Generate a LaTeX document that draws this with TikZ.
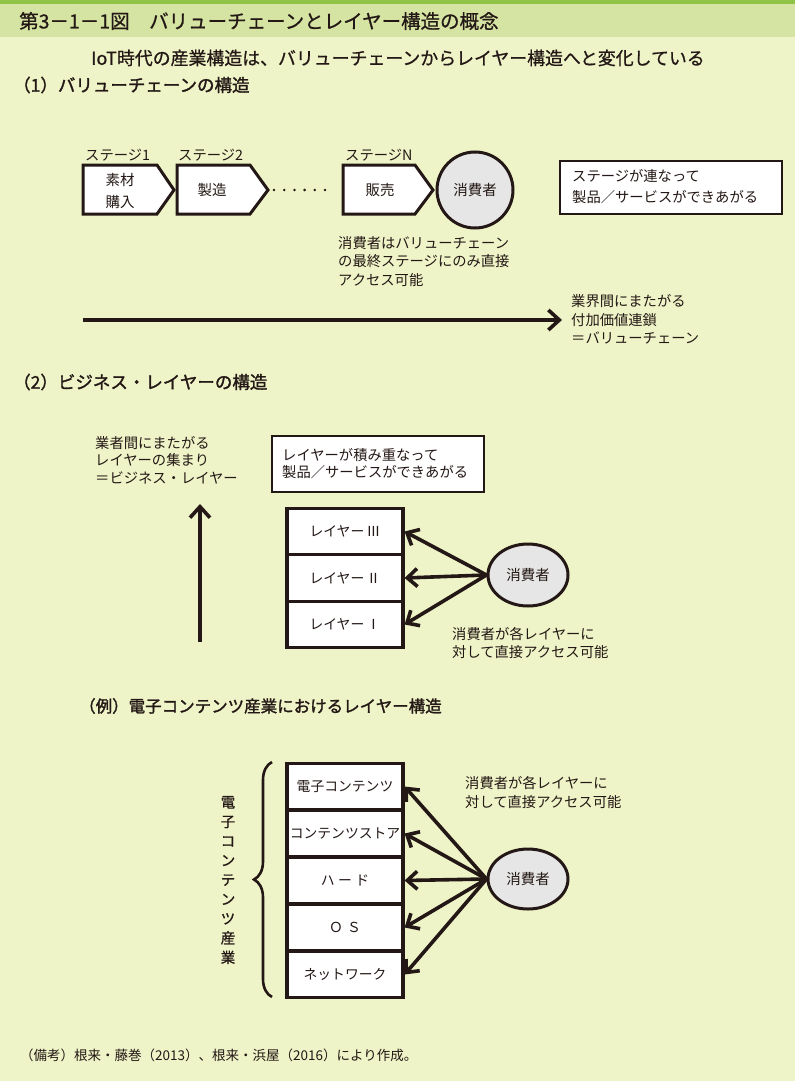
\documentclass[tikz,border=0pt]{standalone}
\usepackage{fontspec}
\setmainfont{Noto Sans CJK JP}[AutoFakeBold=1.6]
\newfontfamily\medfont{Noto Sans CJK JP}[FakeBold=0.8]
\usetikzlibrary{arrows.meta,shapes.geometric,decorations.pathreplacing}
\definecolor{bgc}{HTML}{EFF4C8}
\definecolor{bandc}{HTML}{D5E4A2}
\definecolor{topc}{HTML}{8FC447}
\definecolor{consc}{HTML}{E6E6E6}
\definecolor{inkc}{HTML}{231815}
\begin{document}
\begin{tikzpicture}[x=1pt,y=-1pt,
  txt/.style={inner sep=0pt, text=inkc, font=\fontsize{14.3}{18.5}\selectfont, align=left},
  head/.style={inner sep=0pt, text=inkc, font=\fontsize{17.5}{20}\selectfont\bfseries},
  stagebox/.style={draw=inkc, fill=white, line width=3pt, line join=miter},
  cons/.style={draw=inkc, fill=consc, line width=3pt, inner sep=0pt, text=inkc, font=\fontsize{14.5}{16}\selectfont},
  layerbox/.style={draw=inkc, fill=white, line width=3.2pt, minimum width=116pt, minimum height=46.5pt, inner sep=0pt, text=inkc, font=\fontsize{13.8}{16}\selectfont},
  notebox/.style={draw=inkc, fill=white, line width=1.4pt, inner sep=0pt},
  acc/.style={draw=inkc, line width=3.6pt, -{Straight Barb[length=10pt,width=18pt]}},
  bigarrow/.style={draw=inkc, line width=3.6pt, -{Straight Barb[length=11pt,width=20pt]}}
]
\useasboundingbox (0,0) rectangle (795,1081);
\fill[bgc] (0,0) rectangle (795,1081);
\fill[bandc] (0,0) rectangle (795,37);
\fill[topc] (0,0) rectangle (795,4);

% titles
\node[inner sep=0pt, anchor=west, text=inkc, font=\fontsize{19.5}{22}\medfont] (title) at (19,21) {第3－1－1図　バリューチェーンとレイヤー構造の概念};
\node[inner sep=0pt, anchor=center, text=inkc, font=\fontsize{17.9}{20}\medfont] (sub) at (398,58) {IoT時代の産業構造は、バリューチェーンからレイヤー構造へと変化している};
\node[head, anchor=west] (sec1) at (13,85) {（1）バリューチェーンの構造};

% stages
\node[txt, anchor=west] (lab1) at (85,155) {ステージ1};
\node[txt, anchor=west] (lab2) at (178,155) {ステージ2};
\node[txt, anchor=west] (lab3) at (345,155) {ステージN};
\draw[stagebox] (83,165) -- (157,165) -- (174,190) -- (157,214) -- (83,214) -- cycle;
\draw[stagebox] (177,165) -- (250,165) -- (268,190) -- (250,214) -- (177,214) -- cycle;
\draw[stagebox] (343,165) -- (415,165) -- (433,190) -- (415,214) -- (343,214) -- cycle;
\node[txt, align=center, font=\fontsize{14.5}{22}\selectfont] (s1) at (120,191) {素材\\購入};
\node[txt, font=\fontsize{14.5}{16}\selectfont] (s2) at (212,190) {製造};
\node[txt, font=\fontsize{14.5}{16}\selectfont] (s3) at (380,190) {販売};
\foreach \i in {0,...,5} \fill[inkc] (274+10.2*\i,190) circle (1.4pt);
\node[cons, circle, minimum size=76pt] (c1) at (475,190) {消費者};
\node[txt, anchor=west] (n1) at (338,261.5) {消費者はバリューチェーン\\の最終ステージにのみ直接\\アクセス可能};

\node[notebox, minimum width=222pt, minimum height=53pt] (rb) at (671,187.5) {};
\node[txt, anchor=west, font=\fontsize{14.3}{21}\selectfont] (rbt) at (572,186.5) {ステージが連なって\\製品／サービスができあがる};

\coordinate (a1s) at (83,320);
\coordinate (a1e) at (562,320);
\draw[bigarrow] (a1s) -- (a1e);
\node[txt, anchor=west] (vc) at (571,319.5) {業界間にまたがる\\付加価値連鎖\\＝バリューチェーン};

% section 2
\node[head, anchor=west] (sec2) at (13,382) {（2）ビジネス・レイヤーの構造};
\node[txt, anchor=west, font=\fontsize{14.3}{17.5}\selectfont] (bl) at (95,460) {業者間にまたがる\\レイヤーの集まり\\＝ビジネス・レイヤー};
\node[notebox, minimum width=212pt, minimum height=56pt] (lb) at (378,464) {};
\node[txt, anchor=west, font=\fontsize{14.3}{17.5}\selectfont] (lbt) at (282,463.5) {レイヤーが積み重なって\\製品／サービスができあがる};
\coordinate (v1s) at (200,642);
\coordinate (v1e) at (200,504);
\draw[bigarrow] (v1s) -- (v1e);

\node[layerbox] (L3) at (345,531.5) {レイヤー\,Ⅲ};
\node[layerbox] (L2) at (345,578) {レイヤー\,Ⅱ};
\node[layerbox] (L1) at (345,624.5) {レイヤー\,Ⅰ};
\node[cons, ellipse, minimum width=80pt, minimum height=62pt] (c2) at (528,575) {消費者};
\draw[acc] (c2.west) -- (L3.east);
\draw[acc] (c2.west) -- (L2.east);
\draw[acc] (c2.west) -- (L1.east);
\node[txt, anchor=west, font=\fontsize{14.3}{18}\selectfont] (ln) at (452,643) {消費者が各レイヤーに\\対して直接アクセス可能};

% example
\node[inner sep=0pt, anchor=west, text=inkc, font=\fontsize{16.5}{18}\selectfont\bfseries] (ex) at (79,706) {（例）電子コンテンツ産業におけるレイヤー構造};
\coordinate (brb) at (272,997);
\coordinate (brt) at (272,762);
\draw[inkc, line width=2.6pt, decorate, decoration={brace, amplitude=18pt}] (brb) -- (brt);
\node[txt, align=center, font=\fontsize{14.5}{19.4}\medfont] (vt) at (228,880) {電\\子\\コ\\ン\\テ\\ン\\ツ\\産\\業};

\node[layerbox] (E1) at (345,786.5) {電子コンテンツ};
\node[layerbox] (E2) at (345,833.5) {コンテンツストア};
\node[layerbox] (E3) at (345,880.5) {ハ\hspace{0.25em}ー\hspace{0.25em}ド};
\node[layerbox] (E4) at (345,927.5) {Ｏ\hspace{0.3em}Ｓ};
\node[layerbox] (E5) at (345,974.5) {ネットワーク};
\node[cons, ellipse, minimum width=80pt, minimum height=60pt] (c3) at (528,879) {消費者};
\foreach \e in {E1,E2,E3,E4,E5} \draw[acc] (c3.west) -- (\e.east);
\node[txt, anchor=west, font=\fontsize{14.3}{18.5}\selectfont] (en) at (465,792.5) {消費者が各レイヤーに\\対して直接アクセス可能};

\node[txt, anchor=west, font=\fontsize{13.5}{16}\selectfont] (ft) at (20,1055) {（備考）根来・藤巻（2013）、根来・浜屋（2016）により作成。};
\end{tikzpicture}
\end{document}
